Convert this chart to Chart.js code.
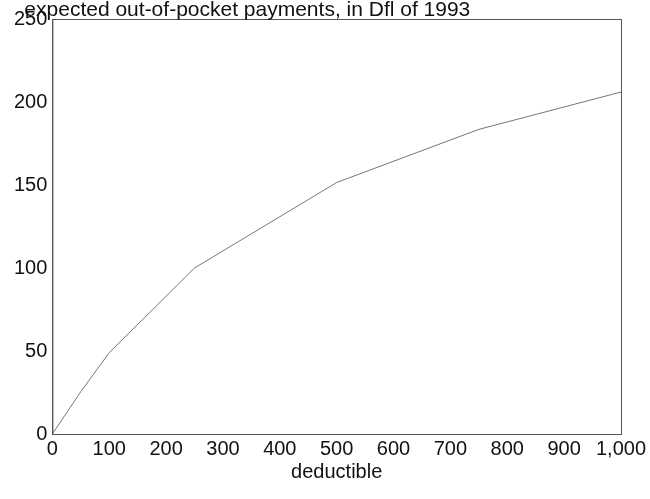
<!DOCTYPE html>
<html>
<head>
<meta charset="utf-8">
<script src="https://cdn.jsdelivr.net/npm/chart.js@4"></script>
<style>
  html, body { margin: 0; padding: 0; background: #fff; }
  #wrap { position: relative; width: 650px; height: 499px; }
</style>
</head>
<body>
<div id="wrap"><canvas id="c" width="650" height="499"></canvas></div>
<script>
// Data
const deductible = [0, 50, 100, 250, 500, 750, 1000];
const payments   = [0, 25.5, 49, 100, 151.5, 183.5, 206];
const xTicks = [0, 100, 200, 300, 400, 500, 600, 700, 800, 900, 1000];
const yTicks = [0, 50, 100, 150, 200, 250];
const titleText = 'expected out-of-pocket payments, in Dfl of 1993';
const xTitle = 'deductible';

const FONT = "'Liberation Sans', Arial, Helvetica, sans-serif";

const frame = {
  id: 'frame',
  afterDraw(chart) {
    const a = chart.chartArea, ctx = chart.ctx;
    ctx.save();
    ctx.strokeStyle = '#555';
    ctx.lineWidth = 1;
    ctx.strokeRect(a.left + 0.5, a.top + 0.5, a.right - a.left, a.bottom - a.top);
    ctx.fillStyle = '#111';
    ctx.font = '21px ' + FONT;
    ctx.textBaseline = 'alphabetic';
    ctx.textAlign = 'left';
    ctx.fillText(titleText, a.left - 28, a.top - 3);
    ctx.restore();
  }
};

new Chart(document.getElementById('c'), {
  type: 'line',
  data: {
    datasets: [{
      data: deductible.map((d, i) => ({ x: d, y: payments[i] })),
      borderColor: '#777',
      borderWidth: 1,
      pointRadius: 0,
      tension: 0,
      fill: false
    }]
  },
  options: {
    responsive: false,
    animation: false,
    layout: { padding: { top: 19, right: 29, bottom: 17, left: 9 } },
    plugins: { legend: { display: false }, tooltip: { enabled: false } },
    scales: {
      x: {
        type: 'linear', min: 0, max: 1000,
        afterBuildTicks: s => { s.ticks = xTicks.map(v => ({ value: v })); },
        ticks: {
          color: '#111', font: { family: FONT, size: 20, lineHeight: 1.1 }, padding: 4,
          maxRotation: 0, autoSkip: false,
          callback: v => v.toLocaleString('en-US')
        },
        grid: { display: false, drawTicks: false },
        border: { display: true, color: '#555' },
        title: { display: true, text: xTitle, color: '#111', font: { family: FONT, size: 20, lineHeight: 1 }, padding: { top: -2, bottom: 0 } }
      },
      y: {
        type: 'linear', min: 0, max: 250,
        afterBuildTicks: s => { s.ticks = yTicks.map(v => ({ value: v })); },
        ticks: { color: '#111', font: { family: FONT, size: 20 }, padding: 5 },
        grid: { display: false, drawTicks: false },
        border: { display: true, color: '#555' }
      }
    }
  },
  plugins: [frame]
});
</script>
</body>
</html>
